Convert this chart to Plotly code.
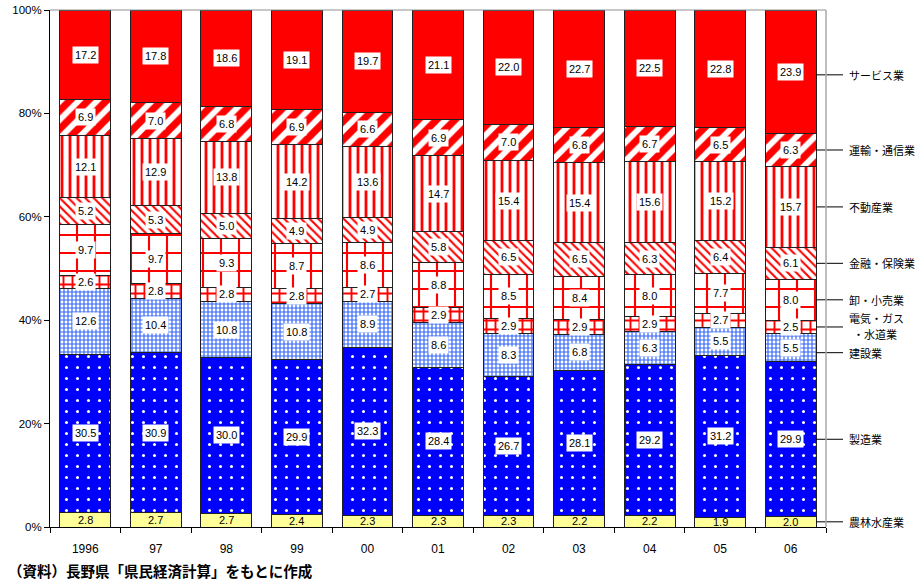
import plotly.graph_objects as go

years = ["1996", "97", "98", "99", "00", "01", "02", "03", "04", "05", "06"]

agri = [2.8, 2.7, 2.7, 2.4, 2.3, 2.3, 2.3, 2.2, 2.2, 1.9, 2.0]
manuf = [30.5, 30.9, 30.0, 29.9, 32.3, 28.4, 26.7, 28.1, 29.2, 31.2, 29.9]
constr = [12.6, 10.4, 10.8, 10.8, 8.9, 8.6, 8.3, 6.8, 6.3, 5.5, 5.5]
utility = [2.6, 2.8, 2.8, 2.8, 2.7, 2.9, 2.9, 2.9, 2.9, 2.7, 2.5]
trade = [9.7, 9.7, 9.3, 8.7, 8.6, 8.8, 8.5, 8.4, 8.0, 7.7, 8.0]
finance = [5.2, 5.3, 5.0, 4.9, 4.9, 5.8, 6.5, 6.5, 6.3, 6.4, 6.1]
realestate = [12.1, 12.9, 13.8, 14.2, 13.6, 14.7, 15.4, 15.4, 15.6, 15.2, 15.7]
transport = [6.9, 7.0, 6.8, 6.9, 6.6, 6.9, 7.0, 6.8, 6.7, 6.5, 6.3]
service = [17.2, 17.8, 18.6, 19.1, 19.7, 21.1, 22.0, 22.7, 22.5, 22.8, 23.9]

series_names = ["農林水産業", "製造業", "建設業", "電気・ガス・水道業", "卸・小売業",
                "金融・保険業", "不動産業", "運輸・通信業", "サービス業"]
series_values = [agri, manuf, constr, utility, trade, finance, realestate, transport, service]

yticks = [0, 20, 40, 60, 80, 100]
ytick_labels = ["0%", "20%", "40%", "60%", "80%", "100%"]

RED = "#FF0000"
BLUE = "#0000FF"
patterns = [
    dict(shape="", fgcolor="#FFFF99", bgcolor="#FFFF99"),
    dict(shape=".", fgcolor="white", bgcolor=BLUE, size=11, solidity=0.06),
    dict(shape="+", fgcolor="#3366FF", bgcolor="white", size=4, solidity=0.5),
    dict(shape="+", fgcolor=RED, bgcolor="white", size=9, solidity=0.38),
    dict(shape="+", fgcolor=RED, bgcolor="white", size=18, solidity=0.22),
    dict(shape="\\", fgcolor=RED, bgcolor="white", size=6, solidity=0.35),
    dict(shape="|", fgcolor=RED, bgcolor="white", size=8, solidity=0.35),
    dict(shape="/", fgcolor=RED, bgcolor="white", size=13, solidity=0.55),
    dict(shape="", fgcolor=RED, bgcolor=RED),
]
colors = ["#FFFF99", BLUE, "white", "white", "white", "white", "white", "white", RED]
# small pixel nudges for the right-hand labels (positive = down)
label_nudge = {"建設業": 5, "サービス業": 3}

fig = go.Figure()
for name, vals, pat, col in zip(series_names, series_values, patterns, colors):
    pat = dict(pat, fgopacity=1)
    fig.add_trace(go.Bar(
        x=years, y=vals, name=name,
        marker=dict(color=col, pattern=pat, line=dict(color="#202020", width=1)),
        hoverinfo="skip",
    ))

totals = [sum(v[i] for v in series_values) for i in range(len(years))]
annotations = []
for si, vals in enumerate(series_values):
    for i, yr in enumerate(years):
        below = sum(series_values[k][i] for k in range(si))
        mid = (below + vals[i] / 2) / totals[i] * 100
        annotations.append(dict(
            x=i, y=mid, xref="x", yref="y", text=f"{vals[i]:.1f}",
            showarrow=False, font=dict(size=11, color="black", family="Liberation Sans"),
            bgcolor="rgba(0,0,0,0)" if si == 0 else "white", borderpad=2,
        ))

# right-side labels at midpoints of the last bar
last = len(years) - 1
shapes = []
x_edge = (816 - 50) / 776
x_line_end = (843 - 50) / 776
x_text = (847 - 50) / 776
lab_font = dict(size=11, color="black", family="Noto Sans CJK JP")
for si, name in enumerate(series_names):
    below = sum(series_values[k][last] for k in range(si))
    mid = (below + series_values[si][last] / 2) / totals[last] * 100
    nudge = label_nudge.get(name, 0)
    shapes.append(dict(type="line", xref="paper", yref="y", ysizemode="pixel", yanchor=mid,
                       x0=x_edge, x1=x_line_end, y0=-nudge, y1=-nudge,
                       line=dict(color="black", width=1)))
    if name == "電気・ガス・水道業":
        annotations.append(dict(x=x_text, y=mid, xref="paper", yref="y", text="電気・ガス",
                                showarrow=False, xanchor="left", yanchor="middle", yshift=9,
                                font=lab_font))
        annotations.append(dict(x=x_text, y=mid, xref="paper", yref="y", text="・水道業",
                                showarrow=False, xanchor="left", yanchor="middle", xshift=4,
                                yshift=-7, font=lab_font))
    else:
        annotations.append(dict(x=x_text, y=mid, xref="paper", yref="y", text=name,
                                showarrow=False, xanchor="left", yanchor="middle",
                                yshift=-nudge, font=lab_font))

shapes.append(dict(type="line", xref="paper", yref="paper", x0=1, x1=1, y0=0, y1=1,
                   line=dict(color="#A8A8A8", width=1.5)))
shapes.append(dict(type="line", xref="paper", yref="paper", x0=0, x1=1, y0=1, y1=1,
                   line=dict(color="#909090", width=1)))

annotations.append(dict(x=(6 - 50) / 776, y=(527 - 570) / 517, xref="paper", yref="paper",
                        text="<b>（資料）長野県「県民経済計算」をもとに作成</b>",
                        showarrow=False, xanchor="left", yanchor="middle",
                        font=dict(size=14.5, color="black", family="Noto Sans CJK JP")))

fig.update_layout(
    barmode="stack", barnorm="percent", bargap=0.28,
    width=916, height=588,
    margin=dict(l=50, r=90, t=10, b=61),
    plot_bgcolor="white", paper_bgcolor="white",
    showlegend=False,
    annotations=annotations, shapes=shapes,
    font=dict(family="Liberation Sans", color="black"),
)
fig.update_xaxes(type="category", range=[-0.5, len(years) - 0.5], showline=True,
                 linecolor="black", linewidth=1, ticks="outside",
                 tickson="boundaries", ticklen=5, tickcolor="black",
                 tickfont=dict(size=12, color="black"), ticklabelstandoff=11,
                 showgrid=False, tickangle=0, automargin=False)
fig.update_yaxes(range=[0, 100], tickvals=yticks, ticktext=ytick_labels, showline=True,
                 linecolor="black", linewidth=1, ticks="outside", ticklen=5,
                 tickcolor="black", tickfont=dict(size=11.5, color="black"),
                 showgrid=False, zeroline=False, automargin=False)

fig.write_html("out.html", config={"displayModeBar": False},
               post_script="document.body.style.margin='0px';")
